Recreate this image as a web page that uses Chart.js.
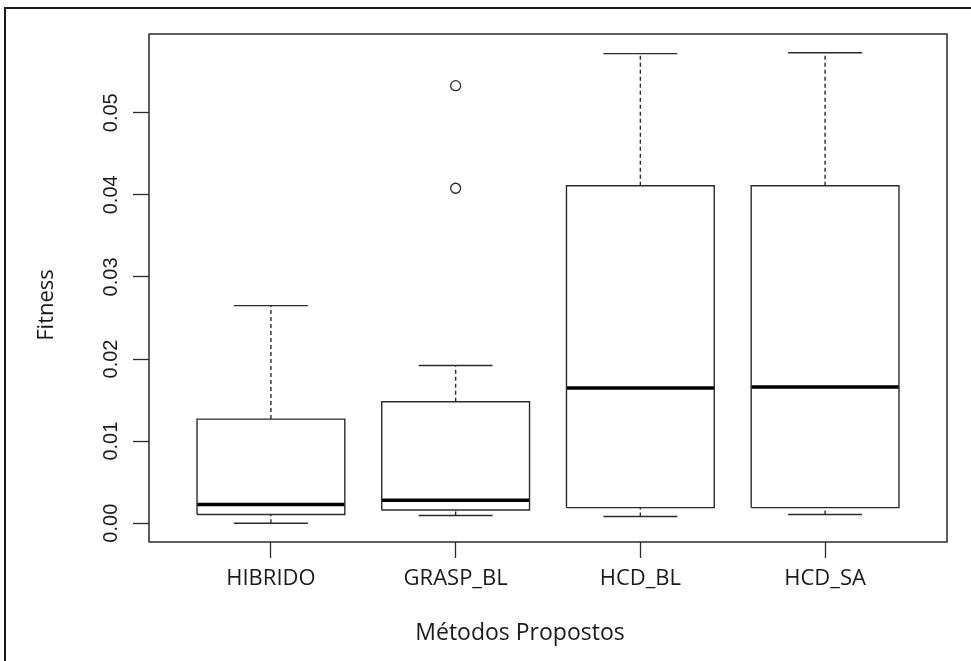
<!DOCTYPE html>
<html>
<head>
<meta charset="utf-8">
<script src="https://cdn.jsdelivr.net/npm/chart.js@4/dist/chart.umd.min.js"></script>
<style>
  html, body { margin: 0; padding: 0; background: #fff; overflow: hidden; }
  #frame { position: absolute; left: 4px; top: 7px; width: 990px; height: 700px; border: 2px solid #1a1a1a; }
  #wrap { position: absolute; left: 0; top: 0; width: 971px; height: 661px; }
</style>
</head>
<body>
<div id="frame"></div>
<div id="wrap"><canvas id="c" width="971" height="661"></canvas></div>
<script>
// boxplot values
const categories = ["HIBRIDO", "GRASP_BL", "HCD_BL", "HCD_SA"];
const whiskerLow  = [0.0000, 0.00094, 0.00082, 0.00106];
const q1          = [0.00106, 0.0016, 0.0019, 0.0019];
const median      = [0.00228, 0.0028, 0.01646, 0.01659];
const q3          = [0.01268, 0.01479, 0.0411, 0.0411];
const whiskerHigh = [0.0265, 0.0192, 0.0572, 0.0573];
const outlierCat  = [2, 2];
const outlierVal  = [0.0533, 0.0408];
const yTicks      = [0, 0.01, 0.02, 0.03, 0.04, 0.05];
const yTickLabels = ["0.00", "0.01", "0.02", "0.03", "0.04", "0.05"];
const xTitle = "Métodos Propostos";
const yTitle = "Fitness";

const INK = "#2b2b2b";
const HALF = 0.4, CAP = 0.2;

// R style range: data range + 4% each side
const allVals = [...whiskerLow, ...whiskerHigh, ...outlierVal];
const dMin = Math.min(...allVals), dMax = Math.max(...allVals);
const yPad = (dMax - dMin) * 0.04;

const line = (pts, extra) => Object.assign({
  data: pts, showLine: true, pointRadius: 0, borderColor: INK,
  borderWidth: 1.4, fill: false, tension: 0,
}, extra || {});

const datasets = [];
categories.forEach((c, i) => {
  const x = i + 1;
  datasets.push(line([
    { x: x - HALF, y: q1[i] }, { x: x + HALF, y: q1[i] },
    { x: x + HALF, y: q3[i] }, { x: x - HALF, y: q3[i] },
    { x: x - HALF, y: q1[i] },
  ]));
  datasets.push(line([{ x: x - HALF, y: median[i] }, { x: x + HALF, y: median[i] }],
    { borderWidth: 3.6, borderColor: "#000" }));
  datasets.push(line([{ x, y: q3[i] }, { x, y: whiskerHigh[i] }], { borderDash: [4, 3] }));
  datasets.push(line([{ x, y: whiskerLow[i] }, { x, y: q1[i] }], { borderDash: [4, 3] }));
  datasets.push(line([{ x: x - CAP, y: whiskerHigh[i] }, { x: x + CAP, y: whiskerHigh[i] }]));
  datasets.push(line([{ x: x - CAP, y: whiskerLow[i] }, { x: x + CAP, y: whiskerLow[i] }]));
});
datasets.push({
  data: outlierCat.map((c, i) => ({ x: c, y: outlierVal[i] })),
  showLine: false, pointRadius: 5, pointHoverRadius: 5,
  pointBackgroundColor: "#fff", pointBorderColor: INK, pointBorderWidth: 1.3,
});

const frameAndText = {
  id: "frameAndText",
  afterDraw(chart) {
    const { ctx, chartArea: a } = chart;
    const ys = chart.scales.y;
    ctx.save();
    ctx.strokeStyle = INK;
    ctx.lineWidth = 1.5;
    ctx.strokeRect(a.left, a.top, a.right - a.left, a.bottom - a.top);

    ctx.fillStyle = "#1a1a1a";
    ctx.textAlign = "center";
    ctx.textBaseline = "middle";
    ctx.font = '20px "Liberation Sans", Arial, sans-serif';
    ys.ticks.forEach((t, i) => {
      ctx.save();
      ctx.translate(111, ys.getPixelForValue(t.value));
      ctx.rotate(-Math.PI / 2);
      ctx.fillText(yTickLabels[i], 0, 0);
      ctx.restore();
    });

    ctx.font = '22px "Open Sans", sans-serif';
    ctx.save();
    ctx.translate(47, 305);
    ctx.rotate(-Math.PI / 2);
    ctx.fillText(yTitle, 0, 0);
    ctx.restore();
    ctx.font = '23px "Open Sans", sans-serif';
    ctx.fillText(xTitle, 520, 633);
    ctx.restore();
  },
};

new Chart(document.getElementById("c"), {
  type: "scatter",
  data: { datasets },
  plugins: [frameAndText],
  options: {
    responsive: false, animation: false, devicePixelRatio: 1,
    layout: { padding: { top: 34, right: 24, left: 0, bottom: 0 } },
    plugins: { legend: { display: false }, tooltip: { enabled: false } },
    scales: {
      x: {
        type: "linear", min: 0.34, max: 4.66,
        afterBuildTicks: s => { s.ticks = categories.map((c, i) => ({ value: i + 1 })); },
        afterFit: s => { s.height = 119; },
        border: { display: false },
        grid: { drawOnChartArea: false, drawTicks: true, tickLength: 16, color: INK, tickWidth: 1.3 },
        ticks: {
          callback: v => categories[v - 1] || "",
          font: { family: "Open Sans", size: 22 }, color: "#1a1a1a",
          padding: 8, maxRotation: 0, minRotation: 0,
        },
      },
      y: {
        min: dMin - yPad, max: dMax + yPad,
        afterBuildTicks: s => { s.ticks = yTicks.map(v => ({ value: v })); },
        afterFit: s => { s.width = 149; },
        border: { display: false },
        grid: { drawOnChartArea: false, drawTicks: true, tickLength: 16, color: INK, tickWidth: 1.3 },
        ticks: { display: false },
      },
    },
  },
});
</script>
</body>
</html>
